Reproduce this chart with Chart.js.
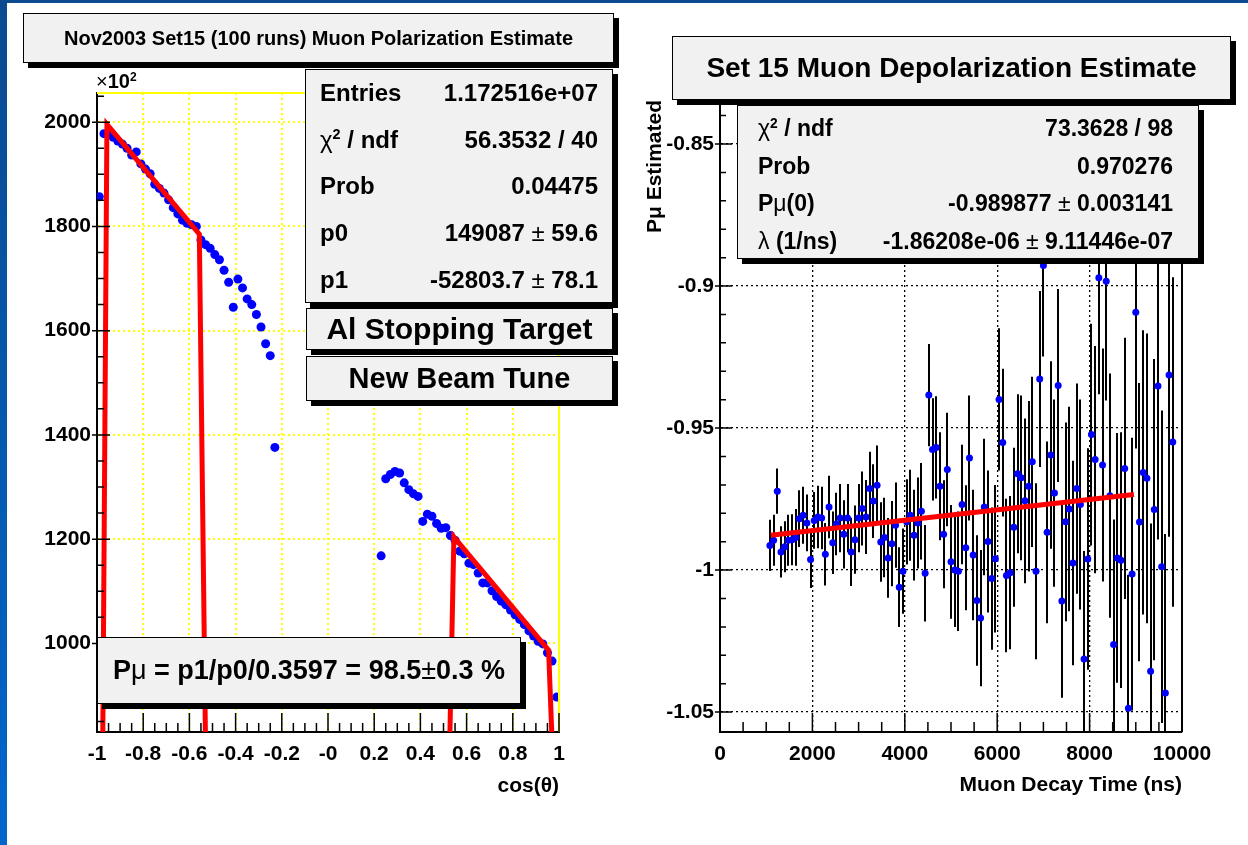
<!DOCTYPE html>
<html>
<head>
<meta charset="utf-8">
<script src="https://cdn.jsdelivr.net/npm/chart.js@4.4.1/dist/chart.umd.min.js"></script>
<style>
  body {
    margin: 0; width: 1248px; height: 845px; position: relative; overflow: hidden; background: #fff;
    font-family: "Liberation Sans", Arial, Helvetica, sans-serif; font-weight: bold; color: #000;
  }
  .strip-top { position: absolute; left: 0; top: 0; width: 1248px; height: 3px; background: #0b4a8f; }
  .strip-left { position: absolute; left: 0; top: 0; width: 7px; height: 845px; background: linear-gradient(#0b4a8f, #0066cc); }
  canvas { position: absolute; top: 0; }
  .pave {
    position: absolute; box-sizing: border-box; background: #f1f1f1;
    border: 1.5px solid #000; box-shadow: 5px 5px 0 #000; white-space: nowrap;
  }
  .pave.center { display: flex; align-items: center; justify-content: center; }
  .row { display: flex; justify-content: space-between; align-items: center; }
  .sym { font-weight: normal; }
  sup { font-size: 60%; line-height: 0; vertical-align: 0.6em; }
</style>
</head>
<body>
<div class="strip-top"></div>
<div class="strip-left"></div>

<canvas id="polChart" width="624" height="845" style="left:0"></canvas>
<canvas id="depolChart" width="624" height="845" style="left:624px"></canvas>

<!-- left plot panes -->
<div class="pave center" style="left:23px;top:13px;width:591px;height:50px;font-size:20px">Nov2003 Set15 (100 runs) Muon Polarization Estimate</div>
<div style="position:absolute;left:96px;top:71px;font-size:20px;line-height:20px"><span class="sym">×</span>10<sup>2</sup></div>
<div class="pave" style="left:305px;top:69px;width:308px;height:234px;font-size:24px;padding:0 14px 0 14px">
  <div class="row" style="height:46.6px"><span>Entries</span><span>1.172516e+07</span></div>
  <div class="row" style="height:46.6px"><span><span class="sym">χ</span><sup>2</sup> / ndf</span><span>56.3532 / 40</span></div>
  <div class="row" style="height:46.6px"><span>Prob</span><span>0.04475</span></div>
  <div class="row" style="height:46.6px"><span>p0</span><span>149087<span class="sym"> ± </span>59.6</span></div>
  <div class="row" style="height:46.6px"><span>p1</span><span>-52803.7<span class="sym"> ± </span>78.1</span></div>
</div>
<div class="pave center" style="left:306px;top:308px;width:307px;height:42px;font-size:30px">Al Stopping Target</div>
<div class="pave center" style="left:306px;top:356px;width:307px;height:45px;font-size:29px">New Beam Tune</div>
<div class="pave center" style="left:97px;top:637px;width:424px;height:67px;font-size:27px">P<span class="sym">μ</span>&nbsp;= p1/p0/0.3597 = 98.5<span class="sym">±</span>0.3 %</div>

<!-- right plot panes -->
<div class="pave" style="left:737px;top:105px;width:462px;height:154px;font-size:23px;padding:4px 25px 0 20px">
  <div class="row" style="height:37.5px"><span><span class="sym">χ</span><sup>2</sup> / ndf</span><span>73.3628 / 98</span></div>
  <div class="row" style="height:37.5px"><span>Prob</span><span>0.970276</span></div>
  <div class="row" style="height:37.5px"><span>P<span class="sym">μ</span>(0)</span><span>-0.989877<span class="sym"> ± </span>0.003141</span></div>
  <div class="row" style="height:37.5px"><span><span class="sym">λ</span> (1/ns)</span><span>-1.86208e-06<span class="sym"> ± </span>9.11446e-07</span></div>
</div>
<div class="pave center" style="left:672px;top:36px;width:559px;height:64px;font-size:28px">Set 15 Muon Depolarization Estimate</div>

<script>
// cos(theta) spectrum, counts in units of 10^2
const cosTheta = [
  -0.99, -0.97, -0.95, -0.93, -0.91, -0.89, -0.87, -0.85, -0.83, -0.81,
  -0.79, -0.77, -0.75, -0.73, -0.71, -0.69, -0.67, -0.65, -0.63, -0.61,
  -0.59, -0.57, -0.55, -0.53, -0.51, -0.49, -0.47, -0.45, -0.43, -0.41,
  -0.39, -0.37, -0.35, -0.33, -0.31, -0.29, -0.27, -0.25, -0.23,
  0.23, 0.25, 0.27, 0.29, 0.31, 0.33, 0.35, 0.37, 0.39, 0.41,
  0.43, 0.45, 0.47, 0.49, 0.51, 0.53, 0.55, 0.57, 0.59, 0.61,
  0.63, 0.65, 0.67, 0.69, 0.71, 0.73, 0.75, 0.77, 0.79, 0.81,
  0.83, 0.85, 0.87, 0.89, 0.91, 0.93, 0.95, 0.97, 0.99
];
const counts = [
  1857, 1978, 1976, 1971, 1964, 1958, 1950, 1937, 1943, 1920,
  1910, 1901, 1881, 1873, 1864, 1851, 1836, 1824, 1812, 1806,
  1803, 1800, 1774, 1765, 1758, 1746, 1736, 1716, 1693, 1645,
  1699, 1682, 1661, 1650, 1631, 1607, 1575, 1552, 1376,
  1168, 1316, 1324, 1330, 1327, 1308, 1295, 1287, 1282, 1234,
  1248, 1244, 1230, 1221, 1222, 1207, 1198, 1177, 1172, 1154,
  1151, 1135, 1116, 1116, 1101, 1090, 1081, 1074, 1064, 1055,
  1046, 1036, 1024, 1014, 1004, 999, 982, 966, 897
];
// fitted line p0 + p1*x, drawn as read (drops to zero outside the fit windows)
const fitLowX = [-0.9875, -0.957, -0.557, -0.508];
const fitLowY = [0, 1996, 1785, 0];
const fitHighX = [0.49, 0.545, 0.955, 1.04];
const fitHighY = [0, 1204, 987, 0];
const cosTicks = [-1, -0.8, -0.6, -0.4, -0.2, 0, 0.2, 0.4, 0.6, 0.8, 1];
const cosTickLabels = ['-1', '-0.8', '-0.6', '-0.4', '-0.2', '-0', '0.2', '0.4', '0.6', '0.8', '1'];
const countTicks = [1000, 1200, 1400, 1600, 1800, 2000];

// polarization vs decay time
const decayTime = [
  1080, 1160, 1240, 1320, 1400, 1480, 1560, 1640, 1720, 1800,
  1880, 1960, 2040, 2120, 2200, 2280, 2360, 2440, 2520, 2600,
  2680, 2760, 2840, 2920, 3000, 3080, 3160, 3240, 3320, 3400,
  3480, 3560, 3640, 3720, 3800, 3880, 3960, 4040, 4120, 4200,
  4280, 4360, 4440, 4520, 4600, 4680, 4760, 4840, 4920, 5000,
  5080, 5160, 5240, 5320, 5400, 5480, 5560, 5640, 5720, 5800,
  5880, 5960, 6040, 6120, 6200, 6280, 6360, 6440, 6520, 6600,
  6680, 6760, 6840, 6920, 7000, 7080, 7160, 7240, 7320, 7400,
  7480, 7560, 7640, 7720, 7800, 7880, 7960, 8040, 8120, 8200,
  8280, 8360, 8440, 8520, 8600, 8680, 8760, 8840, 8920, 9000,
  9080, 9160, 9240, 9320, 9400, 9480, 9560, 9640, 9720, 9800
];
const polEst = [
  -0.9913, -0.9895, -0.9722, -0.9936, -0.9918, -0.9895, -0.9893, -0.9885, -0.9819, -0.9807,
  -0.9834, -0.9963, -0.9825, -0.9813, -0.9817, -0.9944, -0.9778, -0.9904, -0.9838, -0.9817,
  -0.9874, -0.9817, -0.9936, -0.9893, -0.9817, -0.9783, -0.9813, -0.9713, -0.9757, -0.9701,
  -0.9901, -0.9885, -0.9957, -0.9907, -0.9842, -1.0060, -1.0004, -0.9830, -0.9807, -0.9877,
  -0.9834, -0.9793, -1.0011, -0.9384, -0.9575, -0.9568, -0.9705, -0.9874, -0.9646, -0.9971,
  -1.0000, -1.0004, -0.9769, -0.9921, -0.9605, -0.9947, -1.0107, -1.0169, -0.9778, -0.9899,
  -1.0030, -0.9960, -0.9399, -0.9551, -1.0019, -1.0009, -0.9849, -0.9661, -0.9675, -0.9756,
  -0.9705, -0.9619, -1.0004, -0.9327, -0.8928, -0.9867, -0.9595, -0.9729, -0.9350, -1.0109,
  -0.9830, -0.9785, -0.9975, -0.9713, -0.9769, -1.0313, -0.9961, -0.9523, -0.9611, -0.8971,
  -0.9630, -0.8983, -0.9738, -1.0262, -0.9957, -0.9965, -0.9642, -1.0486, -1.0014, -0.9092,
  -0.9831, -0.9656, -0.9677, -1.0356, -0.9787, -0.9352, -0.9988, -1.0433, -0.9313, -0.9549
];
const polErr = [
  0.009, 0.009, 0.008, 0.009, 0.009, 0.009, 0.009, 0.010, 0.010, 0.010,
  0.010, 0.010, 0.010, 0.011, 0.011, 0.011, 0.011, 0.011, 0.011, 0.012,
  0.012, 0.012, 0.012, 0.012, 0.012, 0.013, 0.013, 0.013, 0.013, 0.014,
  0.014, 0.014, 0.014, 0.015, 0.015, 0.014, 0.015, 0.015, 0.016, 0.016,
  0.016, 0.017, 0.017, 0.018, 0.018, 0.018, 0.019, 0.019, 0.020, 0.020,
  0.020, 0.021, 0.021, 0.022, 0.022, 0.023, 0.023, 0.024, 0.024, 0.025,
  0.025, 0.026, 0.025, 0.026, 0.027, 0.027, 0.028, 0.028, 0.029, 0.029,
  0.030, 0.030, 0.031, 0.031, 0.032, 0.032, 0.033, 0.033, 0.034, 0.034,
  0.035, 0.036, 0.036, 0.037, 0.037, 0.038, 0.039, 0.039, 0.040, 0.041,
  0.041, 0.042, 0.043, 0.044, 0.044, 0.045, 0.046, 0.047, 0.048, 0.048,
  0.049, 0.050, 0.051, 0.052, 0.053, 0.054, 0.055, 0.056, 0.057, 0.058
];
const fitTime = [1100, 8960];
const fitPol = [-0.9877, -0.9734];
const timeTicks = [0, 2000, 4000, 6000, 8000, 10000];
const polTicks = [-1.05, -1, -0.95, -0.9, -0.85];
const polTickLabels = ['-1.05', '-1', '-0.95', '-0.9', '-0.85'];

Chart.defaults.font.family = '"Liberation Sans", Arial, Helvetica, sans-serif';
Chart.defaults.font.size = 21;
Chart.defaults.font.weight = 'bold';
Chart.defaults.color = '#000';

const toXY = (xs, ys) => xs.map((x, i) => ({ x: x, y: ys[i] }));

// ROOT style ticks drawn inside the frame, plus top/right frame lines
const frameTicks = {
  id: 'frameTicks',
  afterDatasetsDraw(chart, args, o) {
    const { ctx, chartArea: a, scales: { x, y } } = chart;
    ctx.save();
    ctx.strokeStyle = o.frameColor;
    ctx.lineWidth = 2;
    ctx.beginPath();
    ctx.moveTo(a.left, a.top); ctx.lineTo(a.right, a.top); ctx.lineTo(a.right, a.bottom);
    ctx.stroke();

    ctx.strokeStyle = '#000';
    ctx.lineWidth = 1.5;
    ctx.beginPath();
    const nx = Math.round((x.max - x.min) / o.xMinor);
    for (let i = 0; i <= nx; i++) {
      const v = x.min + i * o.xMinor;
      const major = Math.abs(v / o.xMajor - Math.round(v / o.xMajor)) < 1e-6;
      const px = x.getPixelForValue(v);
      ctx.moveTo(px, a.bottom);
      ctx.lineTo(px, a.bottom - (major ? o.xMajLen : o.xMinLen));
    }
    const y0 = Math.ceil(y.min / o.yMinor - 1e-6) * o.yMinor;
    const ny = Math.floor((y.max - y0) / o.yMinor + 1e-6);
    for (let i = 0; i <= ny; i++) {
      const v = y0 + i * o.yMinor;
      const major = Math.abs(v / o.yMajor - Math.round(v / o.yMajor)) < 1e-6;
      const py = y.getPixelForValue(v);
      ctx.moveTo(a.left - (major ? 5 : 0), py);
      ctx.lineTo(a.left + (major ? o.yMajLen : o.yMinLen), py);
    }
    ctx.stroke();
    ctx.restore();
  }
};

// vertical error bars from dataset.errors
const errorBars = {
  id: 'errorBars',
  beforeDatasetsDraw(chart) {
    const { ctx, chartArea: a, scales: { x, y } } = chart;
    ctx.save();
    ctx.beginPath();
    ctx.rect(a.left, a.top, a.width, a.height);
    ctx.clip();
    ctx.strokeStyle = '#000';
    ctx.lineWidth = 2;
    ctx.beginPath();
    chart.data.datasets.forEach(ds => {
      if (!ds.errors) return;
      ds.data.forEach((p, i) => {
        const px = Math.round(x.getPixelForValue(p.x));
        ctx.moveTo(px, y.getPixelForValue(p.y - ds.errors[i]));
        ctx.lineTo(px, y.getPixelForValue(p.y + ds.errors[i]));
      });
    });
    ctx.stroke();
    ctx.restore();
  }
};

// ---------- left: cos(theta) with linear fit ----------
new Chart(document.getElementById('polChart'), {
  type: 'scatter',
  data: {
    datasets: [
      { data: toXY(fitLowX, fitLowY), showLine: true, borderColor: '#ff0000', borderWidth: 5, pointRadius: 0, order: 0 },
      { data: toXY(fitHighX, fitHighY), showLine: true, borderColor: '#ff0000', borderWidth: 5, pointRadius: 0, order: 0 },
      { data: toXY(cosTheta, counts), backgroundColor: '#0000ff', borderWidth: 0, pointRadius: 4.5, order: 1 }
    ]
  },
  options: {
    responsive: false,
    animation: false,
    layout: { padding: { top: 93, right: 65, left: 0, bottom: 0 } },
    plugins: {
      legend: { display: false },
      tooltip: { enabled: false },
      frameTicks: { frameColor: '#ffff00', xMinor: 0.05, xMajor: 0.2, xMajLen: 19, xMinLen: 9,
                    yMinor: 50, yMajor: 200, yMajLen: 13, yMinLen: 7 }
    },
    scales: {
      x: {
        type: 'linear', min: -1, max: 1,
        afterBuildTicks: s => { s.ticks = cosTicks.map(v => ({ value: v })); },
        afterFit: s => { s.height = 113; },
        ticks: { callback: (v, i) => cosTickLabels[i], padding: 10, autoSkip: false, maxRotation: 0 },
        grid: { drawTicks: false, lineWidth: 2,
                color: c => (c.tick && Math.abs(c.tick.value) === 1) ? 'rgba(0,0,0,0)' : '#ffff00' },
        border: { color: '#000', width: 2, dash: [2, 3] },
        title: { display: true, text: 'cos(θ)', align: 'end', padding: { top: 0, bottom: 46 } }
      },
      y: {
        type: 'linear', min: 830, max: 2056,
        afterBuildTicks: s => { s.ticks = countTicks.map(v => ({ value: v })); },
        afterFit: s => { s.width = 97; },
        ticks: { callback: v => String(v), padding: 6 },
        grid: { drawTicks: false, lineWidth: 2, color: '#ffff00' },
        border: { color: '#000', width: 2, dash: [2, 3] }
      }
    }
  },
  plugins: [frameTicks]
});

// ---------- right: polarization vs decay time ----------
new Chart(document.getElementById('depolChart'), {
  type: 'scatter',
  data: {
    datasets: [
      { data: toXY(fitTime, fitPol), showLine: true, borderColor: '#ff0000', borderWidth: 5, pointRadius: 0, order: 0 },
      { data: toXY(decayTime, polEst), errors: polErr, backgroundColor: '#0000ff', borderWidth: 0, pointRadius: 3.5, order: 1 }
    ]
  },
  options: {
    responsive: false,
    animation: false,
    layout: { padding: { top: 100, right: 66, left: 0, bottom: 0 } },
    plugins: {
      legend: { display: false },
      tooltip: { enabled: false },
      frameTicks: { frameColor: '#000', xMinor: 500, xMajor: 2000, xMajLen: 19, xMinLen: 10,
                    yMinor: 0.01, yMajor: 0.05, yMajLen: 12, yMinLen: 6 }
    },
    scales: {
      x: {
        type: 'linear', min: 0, max: 10000,
        afterBuildTicks: s => { s.ticks = timeTicks.map(v => ({ value: v })); },
        afterFit: s => { s.height = 113; },
        ticks: { callback: v => String(v), padding: 10, autoSkip: false, maxRotation: 0 },
        grid: { drawTicks: false, lineWidth: 1.3,
                color: c => (c.tick && (c.tick.value === 0 || c.tick.value === 10000)) ? 'rgba(0,0,0,0)' : '#000' },
        border: { color: '#000', width: 2, dash: [2, 3] },
        title: { display: true, text: 'Muon Decay Time (ns)', align: 'end', padding: { top: 0, bottom: 47 } }
      },
      y: {
        type: 'linear', min: -1.057, max: -0.8345,
        afterBuildTicks: s => { s.ticks = polTicks.map(v => ({ value: v })); },
        afterFit: s => { s.width = 96; },
        ticks: { callback: (v, i) => polTickLabels[i], padding: 6 },
        grid: { drawTicks: false, lineWidth: 1.3, color: '#000' },
        border: { color: '#000', width: 2, dash: [2, 3] },
        title: { display: true, text: 'Pμ Estimated', align: 'end', padding: { top: 19, bottom: 0 } }
      }
    }
  },
  plugins: [errorBars, frameTicks]
});
</script>
</body>
</html>
